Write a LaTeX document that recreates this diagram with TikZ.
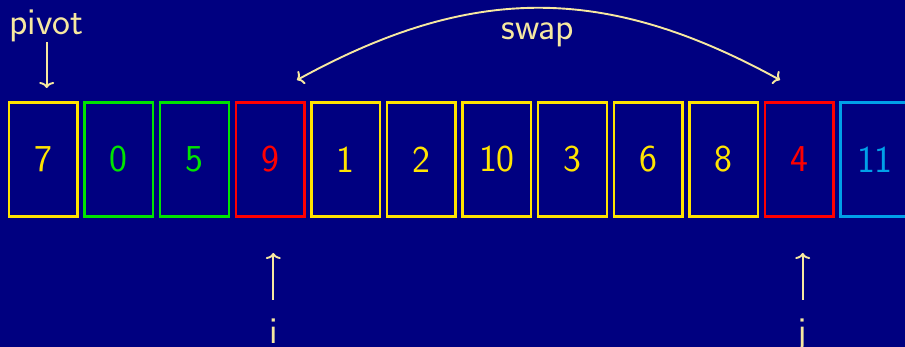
\documentclass[tikz,border=0pt]{standalone}
\usetikzlibrary{arrows.meta}
\definecolor{bgblue}{RGB}{0,0,128}
\definecolor{byellow}{RGB}{255,228,0}
\definecolor{bcream}{RGB}{246,232,160}
\definecolor{bgreen}{RGB}{0,228,0}
\definecolor{bred}{RGB}{255,0,0}
\definecolor{bblue}{RGB}{0,160,232}
\begin{document}
\begin{tikzpicture}[x=1pt,y=-1pt,
  cell/.style={draw,line width=2.4pt,minimum width=68.5pt,minimum height=114pt,inner sep=0pt,
     font=\sffamily\fontsize{38}{40}\selectfont},
  lbl/.style={text=bcream,inner sep=0pt,anchor=base,font=\sffamily\fontsize{38}{40}\selectfont},
  arr/.style={draw=bcream,line width=1.9pt,-{To[length=6pt,width=15pt]}},
  darr/.style={draw=bcream,line width=1.9pt,{To[length=6pt,width=15pt]}-{To[length=6pt,width=15pt]}}]
\fill[bgblue] (0,0) rectangle (905,347);
\useasboundingbox (0,0) rectangle (905,347);
\foreach \v/\c [count=\k from 0] in {7/byellow,0/bgreen,5/bgreen,9/bred,1/byellow,2/byellow,10/byellow,3/byellow,6/byellow,8/byellow,4/bred,11/bblue}{
  \node[cell,draw=\c,text=\c] (b\k) at ({43.3+75.6*\k},159.5) {\v};
}
\node[lbl] (pivot) at (46.5,35) {pivot};
\node[lbl] (swap) at (538,39.5) {swap};
\node[lbl] (i) at (273.3,343) {i};
\node[lbl] (j) at (802.7,343) {j};
\coordinate (p1) at (46.7,42);
\coordinate (p2) at (46.7,88);
\coordinate (i1) at (273.3,300);
\coordinate (i2) at (273.3,253);
\coordinate (j1) at (802.7,300);
\coordinate (j2) at (802.7,253);
\coordinate (sL) at (297,80);
\coordinate (sR) at (780,80);
\draw[arr] (p1) -- (p2);
\draw[arr] (i1) -- (i2);
\draw[arr] (j1) -- (j2);
\draw[darr] (sL) .. controls (472,-16) and (605,-16) .. (sR);
\end{tikzpicture}
\end{document}
